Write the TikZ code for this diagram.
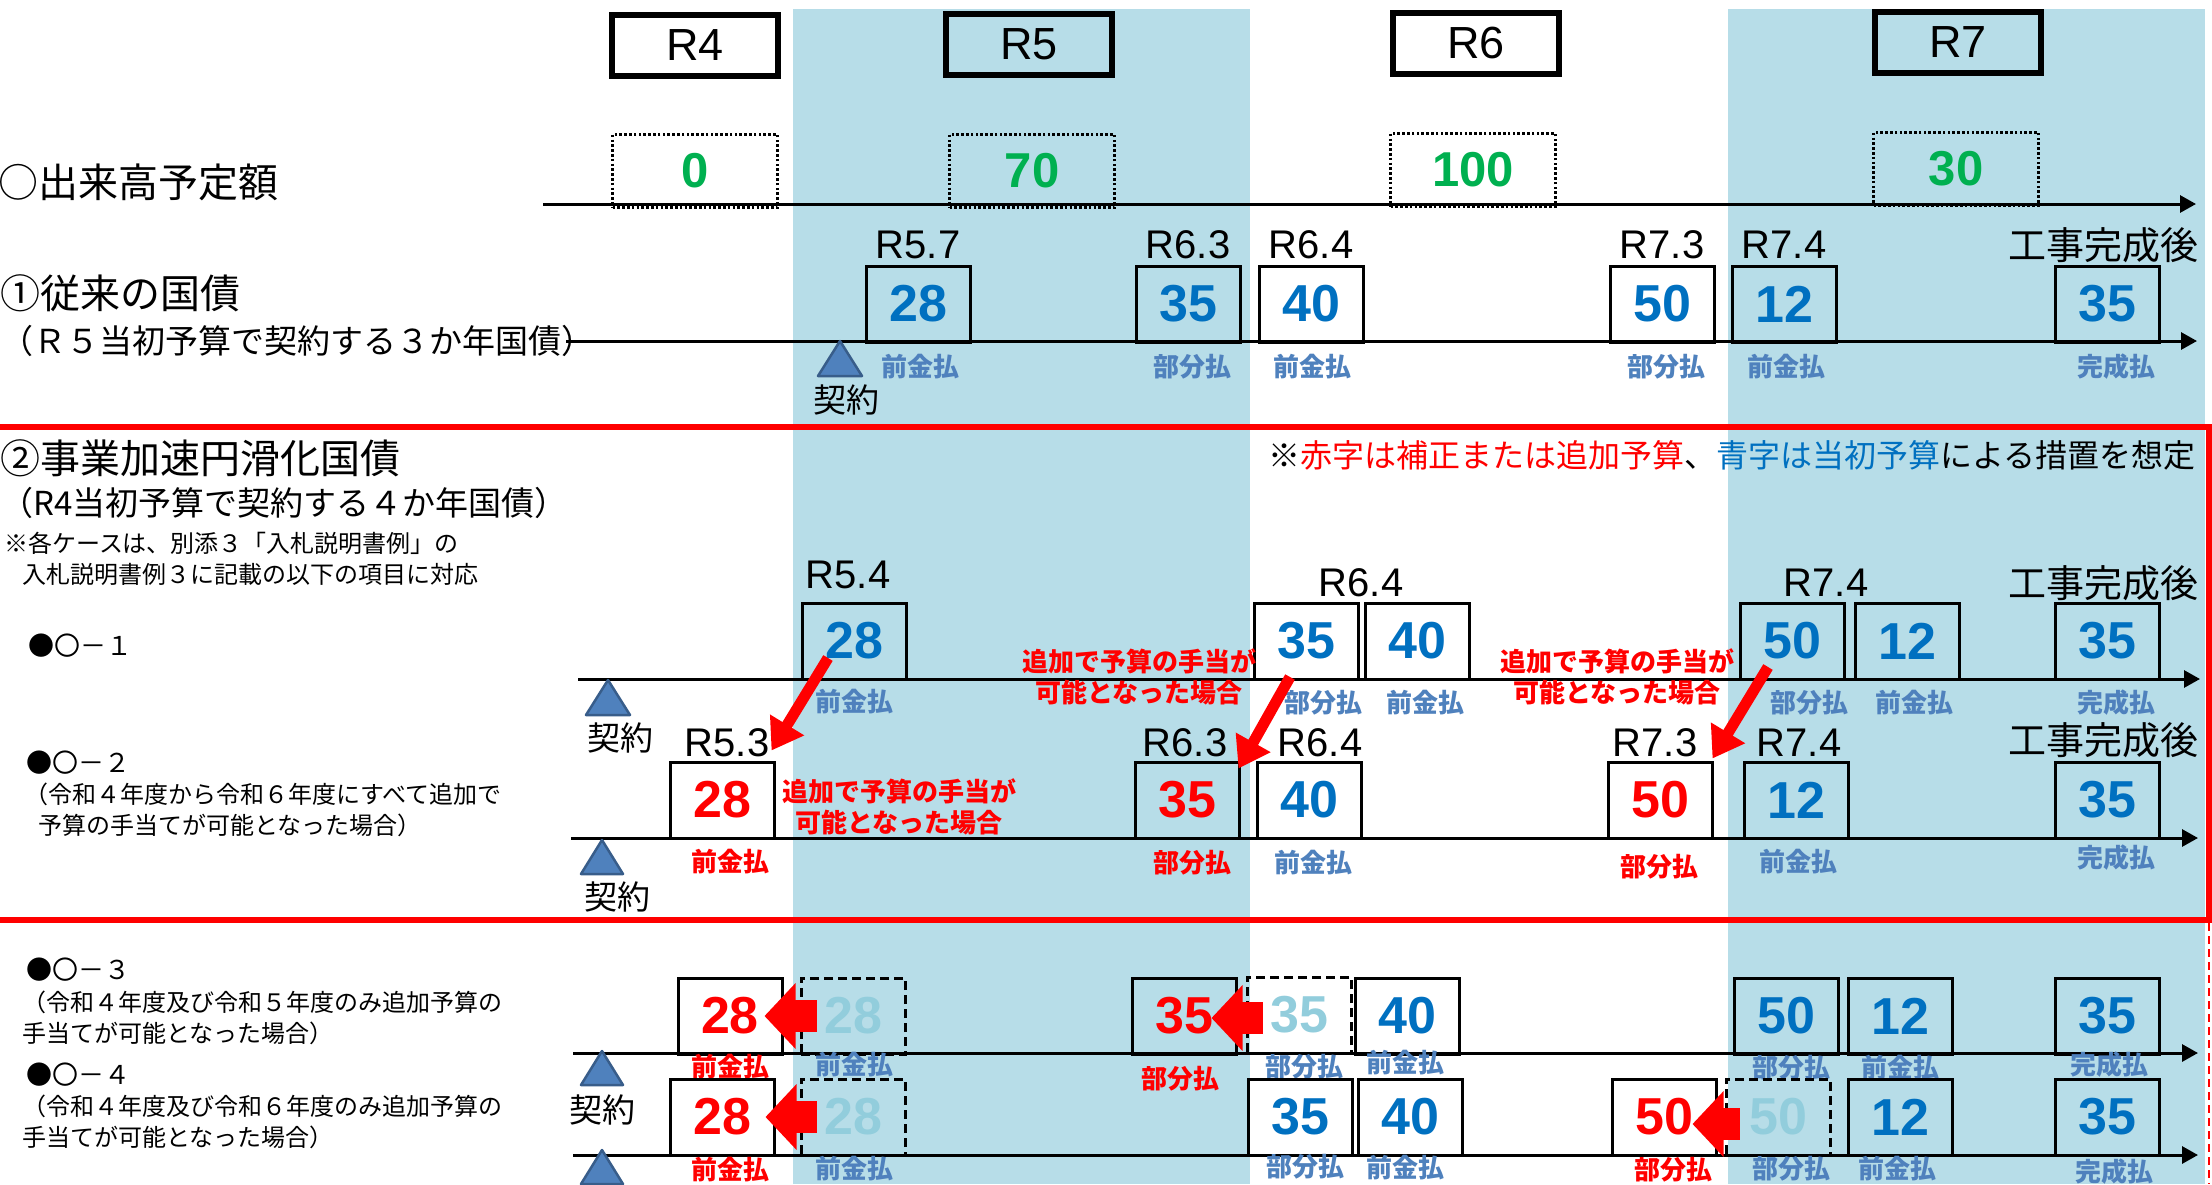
\documentclass[tikz,border=0pt]{standalone}
\usepackage{fontspec}
\setmainfont{Noto Sans CJK JP}
\newfontfamily\lat{Liberation Sans}
\usetikzlibrary{arrows.meta}
\definecolor{bandc}{HTML}{B7DDE8}
\definecolor{numblue}{HTML}{0070C0}
\definecolor{paycol}{HTML}{4F81BD}
\definecolor{numgreen}{HTML}{00B050}
\definecolor{faded}{HTML}{92CDDC}
\definecolor{trifill}{HTML}{4F81BD}
\definecolor{triedge}{HTML}{385D8A}
\definecolor{myred}{HTML}{FF0000}
\newcommand\numf{\lat\bfseries\fontsize{52}{52}\selectfont}
\newcommand\grnf{\lat\bfseries\fontsize{49}{49}\selectfont}
\begin{document}
\begin{tikzpicture}[x=1pt,y=-1pt,
  hdr/.style={draw, line width=6pt, minimum width=166pt, minimum height=61pt, inner sep=0pt, font=\lat\fontsize{45}{45}\selectfont},
  dotbox/.style={draw, line width=2.6pt, dash pattern=on 2.6pt off 2.2pt, minimum width=165pt, minimum height=73pt, inner sep=0pt, text=numgreen, font=\grnf},
  numbox/.style={draw, line width=3pt, minimum width=104pt, minimum height=76pt, inner sep=0pt, font=\numf},
  dashbox/.style={numbox, dash pattern=on 9pt off 5pt, text=faded},
  bl/.style={text=numblue}, rd/.style={text=myred},
  pay/.style={inner sep=0pt, text=paycol, font=\bfseries\fontsize{26}{26}\selectfont},
  payr/.style={pay, text=myred},
  dlab/.style={inner sep=0pt, font=\lat\fontsize{40}{40}\selectfont},
  jlab/.style={inner sep=0pt, font=\fontsize{38}{38}\selectfont},
  kyk/.style={inner sep=0pt, font=\fontsize{33}{33}\selectfont},
  axisln/.style={line width=3pt, -{Triangle[length=16pt,width=17pt]}},
  kmark/.style={fill=trifill, draw=triedge, line width=2.5pt, line join=round},
  darr/.style={draw=myred, line width=11pt, -{Triangle[length=30pt,width=38pt]}},
  blk/.style={draw=myred, line width=32pt, -{Triangle[length=31pt,width=64pt]}},
  addlab/.style={inner sep=0pt, align=center, text=myred, font=\bfseries\fontsize{26}{31}\selectfont},
  ttl/.style={inner sep=0pt, anchor=west, font=\fontsize{40}{40}\selectfont},
  sub/.style={inner sep=0pt, anchor=west, align=left, font=\fontsize{24}{31}\selectfont},
  case/.style={inner sep=0pt, anchor=west, font=\fontsize{26}{26}\selectfont},
]
\path[use as bounding box] (0,0) rectangle (2212,1184);
% bands
\fill[bandc] (793,9) rectangle (1250,1184);
\fill[bandc] (1728,9) rectangle (2205,1184);
% red frame
\draw[myred, line width=6pt] (-5,427) -- (2209,427) -- (2209,920) -- (-5,920);
\draw[myred, line width=2pt, dash pattern=on 8pt off 5pt] (2209,923) -- (2209,1184);

% headers
\node[hdr] (h4) at (695,45) {R4};
\node[hdr] (h5) at (1029,44) {R5};
\node[hdr] (h6) at (1476,43) {R6};
\node[hdr] (h7) at (1958,42) {R7};

% titles
\node[ttl] (t1) at (-2,182) {○出来高予定額};
\node[ttl] (t2) at (0,293) {①従来の国債};
\node[inner sep=0pt, anchor=west, font=\fontsize{33}{33}\selectfont] (t2s) at (0,341) {（Ｒ５当初予算で契約する３か年国債）};
\node[ttl] (t3) at (0,458) {②事業加速円滑化国債};
\node[inner sep=0pt, anchor=west, font=\fontsize{33}{33}\selectfont] (t3s) at (0,503) {（R4当初予算で契約する４か年国債）};
\node[sub] (t3n) at (4,559) {※各ケースは、別添３「入札説明書例」の\\\hspace*{18pt}入札説明書例３に記載の以下の項目に対応};
\node[anchor=east, inner sep=0pt, font=\fontsize{32}{32}\selectfont] (note) at (2196,455) {※\textcolor{myred}{赤字は補正または追加予算}、\textcolor{numblue}{青字は当初予算}による措置を想定};

\node[case] (c1l) at (28,646) {●〇－１};
\node[case] (c2l) at (26,763) {●〇－２};
\node[sub] (c2s) at (24,810) {（令和４年度から令和６年度にすべて追加で\\\hspace*{14pt}予算の手当てが可能となった場合）};
\node[case] (c3l) at (26,970) {●〇－３};
\node[sub] (c3s) at (22,1018) {（令和４年度及び令和５年度のみ追加予算の\\手当てが可能となった場合）};
\node[case] (c4l) at (26,1075) {●〇－４};
\node[sub] (c4s) at (22,1122) {（令和４年度及び令和６年度のみ追加予算の\\手当てが可能となった場合）};

% axes
\coordinate (x1s) at (543,204); \coordinate (x1e) at (2196,204);
\coordinate (x2s) at (566,341); \coordinate (x2e) at (2197,341);
\coordinate (x3s) at (578,679); \coordinate (x3e) at (2200,679);
\coordinate (x4s) at (571,838); \coordinate (x4e) at (2198,838);
\coordinate (x5s) at (573,1053); \coordinate (x5e) at (2198,1053);
\coordinate (x6s) at (573,1155); \coordinate (x6e) at (2198,1155);
\foreach \i in {1,...,6} {\draw[axisln] (x\i s) -- (x\i e);}

% planned amounts
\node[dotbox] (g1) at (695,171) {0};
\node[dotbox] (g2) at (1032,171) {70};
\node[dotbox] (g3) at (1473,170) {100};
\node[dotbox] (g4) at (1956,169) {30};

% contract marks
\draw[kmark] (840,341) -- ++(-22,35) -- ++(44,0) -- cycle;
\draw[kmark] (608,680) -- ++(-22,35) -- ++(44,0) -- cycle;
\draw[kmark] (602,840) -- ++(-21,34) -- ++(42,0) -- cycle;
\draw[kmark] (602,1051) -- ++(-21,34) -- ++(42,0) -- cycle;
\draw[kmark] (602,1150) -- ++(-21,34) -- ++(42,0) -- cycle;
\node[kyk] (k1) at (846,400) {契約};
\node[kyk] (k2) at (620,738) {契約};
\node[kyk] (k3) at (617,897) {契約};
\node[kyk] (k4) at (602,1110) {契約};

% row 1
\node[numbox,bl] (a1) at (918,304) {28};
\node[numbox,bl] (a2) at (1188,304) {35};
\node[numbox,bl] (a3) at (1311,304) {40};
\node[numbox,bl] (a4) at (1662,304) {50};
\node[numbox,bl] (a5) at (1784,304) {12};
\node[numbox,bl] (a6) at (2107,304) {35};
\node[dlab] (ad1) at (918,245) {R5.7};
\node[dlab] (ad2) at (1188,245) {R6.3};
\node[dlab] (ad3) at (1311,245) {R6.4};
\node[dlab] (ad4) at (1662,245) {R7.3};
\node[dlab] (ad5) at (1784,245) {R7.4};
\node[jlab] (ad6) at (2103,245) {工事完成後};
\node[pay] (ap1) at (920,367) {前金払};
\node[pay] (ap2) at (1192,367) {部分払};
\node[pay] (ap3) at (1312,367) {前金払};
\node[pay] (ap4) at (1666,367) {部分払};
\node[pay] (ap5) at (1786,367) {前金払};
\node[pay] (ap6) at (2116,367) {完成払};

% row O-1
\node[numbox,bl] (b1) at (854,641) {28};
\node[numbox,bl] (b2) at (1306,641) {35};
\node[numbox,bl] (b3) at (1417,641) {40};
\node[numbox,bl] (b4) at (1792,641) {50};
\node[numbox,bl] (b5) at (1907,641) {12};
\node[numbox,bl] (b6) at (2107,641) {35};
\node[dlab] (bd1) at (848,575) {R5.4};
\node[dlab] (bd2) at (1361,583) {R6.4};
\node[dlab] (bd3) at (1826,583) {R7.4};
\node[jlab] (bd4) at (2103,583) {工事完成後};
\node[pay] (bp1) at (854,702) {前金払};
\node[pay] (bp2) at (1323,703) {部分払};
\node[pay] (bp3) at (1425,703) {前金払};
\node[pay] (bp4) at (1809,703) {部分払};
\node[pay] (bp5) at (1914,703) {前金払};
\node[pay] (bp6) at (2116,703) {完成払};

% row O-2
\node[numbox,rd] (c1) at (722,800) {28};
\node[numbox,rd] (c2) at (1187,800) {35};
\node[numbox,bl] (c3) at (1309,800) {40};
\node[numbox,rd] (c4) at (1660,800) {50};
\node[numbox,bl] (c5) at (1796,800) {12};
\node[numbox,bl] (c6) at (2107,800) {35};
\node[dlab] (cd1) at (727,743) {R5.3};
\node[dlab] (cd2) at (1185,743) {R6.3};
\node[dlab] (cd3) at (1320,743) {R6.4};
\node[dlab] (cd4) at (1655,743) {R7.3};
\node[dlab] (cd5) at (1799,743) {R7.4};
\node[jlab] (cd6) at (2103,740) {工事完成後};
\node[payr] (cp1) at (730,862) {前金払};
\node[payr] (cp2) at (1192,863) {部分払};
\node[pay] (cp3) at (1313,863) {前金払};
\node[payr] (cp4) at (1659,867) {部分払};
\node[pay] (cp5) at (1798,862) {前金払};
\node[pay] (cp6) at (2116,858) {完成払};

% row O-3
\node[numbox,rd] (d1) at (730,1016) {28};
\node[dashbox] (d2) at (853,1016) {28};
\node[numbox,rd] (d3) at (1184,1016) {35};
\node[dashbox] (d4) at (1299,1015) {35};
\node[numbox,bl] (d5) at (1407,1016) {40};
\node[numbox,bl] (d6) at (1786,1016) {50};
\node[numbox,bl] (d7) at (1900,1016) {12};
\node[numbox,bl] (d8) at (2107,1016) {35};
\node[payr] (dp1) at (730,1067) {前金払};
\node[pay] (dp2) at (854,1065) {前金払};
\node[payr] (dp3) at (1180,1079) {部分払};
\node[pay] (dp4) at (1304,1067) {部分払};
\node[pay] (dp5) at (1405,1063) {前金払};
\node[pay] (dp6) at (1791,1068) {部分払};
\node[pay] (dp7) at (1900,1068) {前金払};
\node[pay] (dp8) at (2109,1065) {完成払};

% row O-4
\node[numbox,rd] (e1) at (722,1117) {28};
\node[dashbox] (e2) at (853,1117) {28};
\node[numbox,bl] (e3) at (1300,1117) {35};
\node[numbox,bl] (e4) at (1410,1117) {40};
\node[numbox,rd] (e5) at (1664,1117) {50};
\node[dashbox] (e6) at (1778,1117) {50};
\node[numbox,bl] (e7) at (1900,1117) {12};
\node[numbox,bl] (e8) at (2107,1117) {35};
\node[payr] (ep1) at (730,1170) {前金払};
\node[pay] (ep2) at (854,1169) {前金払};
\node[pay] (ep3) at (1305,1167) {部分払};
\node[pay] (ep4) at (1405,1168) {前金払};
\node[payr] (ep5) at (1673,1170) {部分払};
\node[pay] (ep6) at (1791,1169) {部分払};
\node[pay] (ep7) at (1897,1169) {前金払};
\node[pay] (ep8) at (2114,1172) {完成払};

% red labels
\node[addlab] (la) at (1139,677) {追加で予算の手当が\\可能となった場合};
\node[addlab] (lb) at (1617,677) {追加で予算の手当が\\可能となった場合};
\node[addlab] (lc) at (899,807) {追加で予算の手当が\\可能となった場合};

% diagonal arrows
\draw[darr] ([shift={(-26,17)}]b1.center) -- ([shift={(-4,-10)}]c1.north east);
\draw[darr] ([shift={(-16,36)}]b2.center) -- ([shift={(-2,8)}]c2.north east);
\draw[darr] ([shift={(-24,26)}]b4.center) -- ([shift={(-1,-2)}]c4.north east);

% block arrows
\draw[blk] ([xshift=17pt]d2.west) -- ([xshift=-19pt]d1.east);
\draw[blk] ([shift={(17,3)}]d4.west) -- ([shift={(-26,2)}]d3.east);
\draw[blk] ([xshift=17pt]e2.west) -- ([xshift=-10pt]e1.east);
\draw[blk] ([shift={(15,7)}]e6.west) -- ([shift={(-25,7)}]e5.east);
\end{tikzpicture}
\end{document}
